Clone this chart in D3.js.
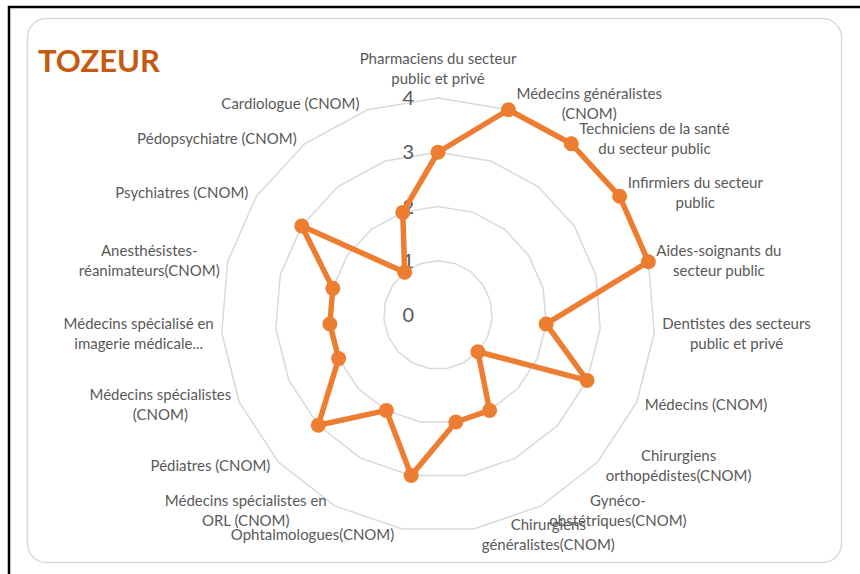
<!DOCTYPE html>
<meta charset="utf-8">

<!-- Load d3.js -->
<script src="https://d3js.org/d3.v7.min.js"></script>

<style>
    body {
        margin: 0;
        background: #fff;
    }
    .grid {
        fill: none;
        stroke: #d9d9d9;
        stroke-width: 1.5;
    }
    .serie {
        fill: none;
        stroke: #ed7d31;
        stroke-width: 5.5;
        stroke-linejoin: round;
    }
    .lbl {
        font-family: Lato, "Open Sans", sans-serif;
        font-size: 15px;
        fill: #595959;
    }
    .tick {
        font-family: Lato, "Open Sans", sans-serif;
        font-size: 20px;
        fill: #595959;
    }
</style>

<svg id="my_dataviz"></svg>

<script>
    // Chart data
    var chartTitle = "TOZEUR";

    var categories = [
        "Pharmaciens du secteur\npublic et privé",
        "Médecins généralistes\n(CNOM)",
        "Techniciens de la santé\ndu secteur public",
        "Infirmiers du secteur\npublic",
        "Aides-soignants du\nsecteur public",
        "Dentistes des secteurs\npublic et privé",
        "Médecins (CNOM)",
        "Chirurgiens\northopédistes(CNOM)",
        "Gynéco-\nobstétriques(CNOM)",
        "Chirurgiens\ngénéralistes(CNOM)",
        "Ophtalmologues(CNOM)",
        "Médecins spécialistes en\nORL (CNOM)",
        "Pédiatres (CNOM)",
        "Médecins spécialistes\n(CNOM)",
        "Médecins spécialisé en\nimagerie médicale...",
        "Anesthésistes-\nréanimateurs(CNOM)",
        "Psychiatres (CNOM)",
        "Pédopsychiatre (CNOM)",
        "Cardiologue (CNOM)"
    ];

    var values = [3, 4, 4, 4, 4, 2, 3, 1, 2, 2, 3, 2, 3, 2, 2, 2, 3, 1, 2];

    var tickValues = [0, 1, 2, 3, 4];

    // Dimensions
    var width = 860,
        height = 574,
        cx = 438,
        cy = 315,
        radius = 217;

    var svg = d3.select("#my_dataviz")
        .attr("width", width)
        .attr("height", height);

    // frame of the picture + rounded chart area
    svg.append("rect")
        .attr("x", 9)
        .attr("y", 7)
        .attr("width", 880)
        .attr("height", 600)
        .attr("fill", "none")
        .attr("stroke", "#000")
        .attr("stroke-width", 2.5);

    svg.append("rect")
        .attr("x", 27.5)
        .attr("y", 18.5)
        .attr("width", 814)
        .attr("height", 544)
        .attr("rx", 19)
        .attr("fill", "#fff")
        .attr("stroke", "#d9d9d9")
        .attr("stroke-width", 1.5);

    svg.append("text")
        .attr("x", 38)
        .attr("y", 72)
        .style("font-family", "Lato, 'Open Sans', sans-serif")
        .style("font-weight", "bold")
        .style("font-size", "31px")
        .attr("fill", "#c55a11")
        .text(chartTitle);

    var g = svg.append("g")
        .attr("transform", "translate(" + cx + "," + cy + ")");

    // Scales
    var n = categories.length;
    var angle = d3.scaleLinear()
        .domain([0, n])
        .range([0, 2 * Math.PI]);

    var r = d3.scaleLinear()
        .domain([0, d3.max(tickValues)])
        .range([0, radius]);

    // Grid polygons
    var ring = d3.lineRadial()
        .angle(function(d, i) { return angle(i); })
        .radius(function(d) { return r(d); })
        .curve(d3.curveLinearClosed);

    g.append("g")
        .selectAll("path")
        .data(tickValues.filter(function(t) { return t > 0; }))
        .enter()
        .append("path")
        .attr("class", "grid")
        .attr("d", function(t) {
            return ring(categories.map(function() { return t; }));
        });

    // tick labels, left of the vertical axis
    g.append("g")
        .selectAll("text")
        .data(tickValues)
        .enter()
        .append("text")
        .attr("class", "tick")
        .attr("x", -24)
        .attr("y", function(t) { return -r(t); })
        .attr("dy", "0.35em")
        .attr("text-anchor", "end")
        .text(function(t) { return t; });

    // the serie
    g.append("path")
        .datum(values)
        .attr("class", "serie")
        .attr("d", ring);

    g.append("g")
        .selectAll("circle")
        .data(values)
        .enter()
        .append("circle")
        .attr("cx", function(d, i) { return Math.sin(angle(i)) * r(d); })
        .attr("cy", function(d, i) { return -Math.cos(angle(i)) * r(d); })
        .attr("r", 7.5)
        .attr("fill", "#ed7d31");

    // category labels
    var lineH = 20,
        gap = 8;

    var lbl = g.append("g")
        .selectAll("g")
        .data(categories)
        .enter()
        .append("g");

    lbl.each(function(name, i) {
        var a = angle(i),
            px = Math.sin(a) * radius,
            py = -Math.cos(a) * radius,
            lines = name.split("\n"),
            sel = d3.select(this);

        var texts = sel.selectAll("text")
            .data(lines)
            .enter()
            .append("text")
            .attr("class", "lbl")
            .attr("text-anchor", "middle")
            .attr("dy", "0.35em")
            .text(function(d) { return d; });

        var w = 0;
        texts.each(function() { w = Math.max(w, this.getComputedTextLength()); });

        var bx, by;
        if (i === 0) {
            bx = px;
            by = py - 19 - (lines.length - 1) * lineH / 2;
        } else {
            bx = Math.sin(a) > 0 ? px + gap + w / 2 : px - gap - w / 2;
            by = py - Math.cos(a) * 6;
        }

        texts.attr("x", bx)
            .attr("y", function(d, k) { return by + (k - (lines.length - 1) / 2) * lineH; });
    });
</script>
